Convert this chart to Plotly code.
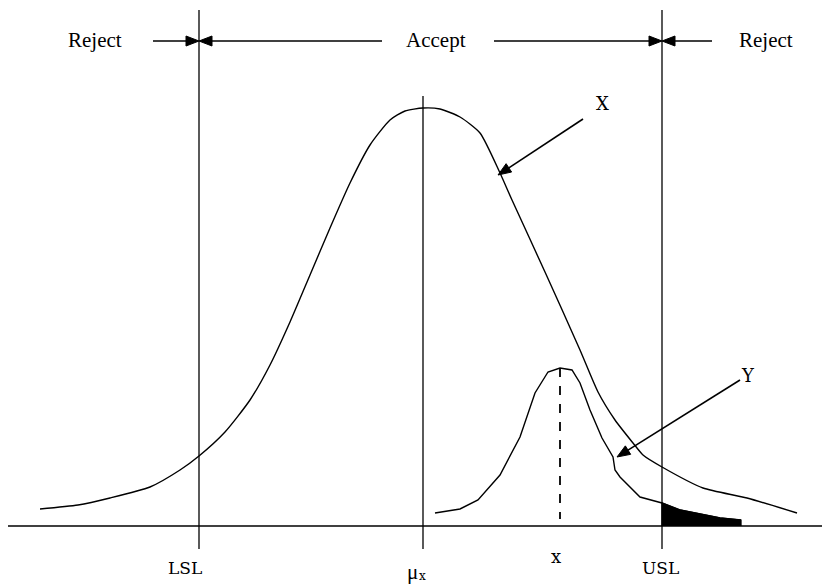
import math
import plotly.graph_objects as go

# X distribution curve (x in 100-px units relative to mean, y = density height)
x_dist_x = [-3.83, -3.45, -3.13, -2.73, -2.43, -2.24, -1.98, -1.73, -1.53, -1.33, -1.13, -0.93,
            -0.73, -0.53, -0.33, -0.18, 0.0, 0.17, 0.37, 0.57, 0.77, 0.89, 1.22, 1.57, 1.75,
            1.92, 2.10, 2.20, 2.39, 2.80, 3.24, 3.74]
x_dist_y = [0.17, 0.21, 0.28, 0.39, 0.56, 0.70, 0.94, 1.26, 1.61, 2.04, 2.51, 2.98,
            3.43, 3.81, 4.06, 4.15, 4.18, 4.17, 4.09, 3.93, 3.53, 3.26, 2.54, 1.76, 1.34,
            1.06, 0.83, 0.71, 0.59, 0.38, 0.28, 0.13]

# Y distribution curve
y_dist_x = [0.12, 0.37, 0.55, 0.77, 0.97, 1.12, 1.25, 1.37, 1.49, 1.57, 1.67, 1.79, 1.90,
            1.92, 1.97, 2.17, 2.39, 2.57, 2.77, 2.97, 3.18]
y_dist_y = [0.13, 0.17, 0.26, 0.51, 0.89, 1.33, 1.54, 1.58, 1.56, 1.43, 1.16, 0.88, 0.69,
            0.56, 0.49, 0.29, 0.23, 0.16, 0.12, 0.08, 0.06]

# key positions
LSL = -2.24
USL = 2.39
MU = 0.0
Y_MEAN = 1.37
Y_PEAK = 1.58
AXIS_X = [-4.18, 3.99]

tick_labels = ["LSL", "μ", "x", "x", "USL"]

BLACK = "black"
fig = go.Figure()

# horizontal axis line
fig.add_trace(go.Scatter(x=AXIS_X, y=[0, 0], mode="lines",
                         line=dict(color=BLACK, width=1.3), hoverinfo="skip"))

# shaded tail of Y beyond USL
sx = [v for v in y_dist_x if v >= USL]
sy = [y_dist_y[i] for i, v in enumerate(y_dist_x) if v >= USL]
fig.add_trace(go.Scatter(x=[USL] + sx + [sx[-1]], y=[0] + sy + [0], mode="lines",
                         fill="toself", fillcolor=BLACK,
                         line=dict(color=BLACK, width=1.3), hoverinfo="skip"))

# curves
fig.add_trace(go.Scatter(x=x_dist_x, y=x_dist_y, mode="lines", line_shape="spline",
                         line=dict(color=BLACK, width=1.4, smoothing=0.6), hoverinfo="skip"))
fig.add_trace(go.Scatter(x=y_dist_x, y=y_dist_y, mode="lines",
                         line=dict(color=BLACK, width=1.4), hoverinfo="skip"))

# vertical lines
for xv, top in [(LSL, 5.16), (USL, 5.16), (MU, 4.30)]:
    fig.add_trace(go.Scatter(x=[xv, xv], y=[top, -0.23], mode="lines",
                             line=dict(color=BLACK, width=1.3), hoverinfo="skip"))
fig.add_trace(go.Scatter(x=[Y_MEAN, Y_MEAN], y=[Y_PEAK, 0.07], mode="lines",
                         line=dict(color=BLACK, width=1.8, dash="dash"), hoverinfo="skip"))

# arrows: shaft line plus a filled head triangle derived from the arrow's own direction
HEAD_LEN = 0.13
HEAD_HALF = 0.05
def arrow(x0, y0, x1, y1):
    dx, dy = x1 - x0, y1 - y0
    n = math.hypot(dx, dy)
    ux, uy = dx / n, dy / n
    bx, by = x1 - HEAD_LEN * ux, y1 - HEAD_LEN * uy
    px, py = -uy * HEAD_HALF, ux * HEAD_HALF
    fig.add_trace(go.Scatter(x=[x0, bx], y=[y0, by], mode="lines",
                             line=dict(color=BLACK, width=1.6), hoverinfo="skip"))
    fig.add_trace(go.Scatter(x=[x1, bx + px, bx - px, x1], y=[y1, by + py, by - py, y1],
                             mode="lines", fill="toself", fillcolor=BLACK,
                             line=dict(color=BLACK, width=1), hoverinfo="skip"))

arrow(-2.70, 4.85, LSL, 4.85)
arrow(-0.41, 4.85, LSL, 4.85)
arrow(0.71, 4.85, USL, 4.85)
arrow(2.89, 4.85, USL, 4.85)
arrow(1.60, 4.07, 0.75, 3.51)
arrow(3.17, 1.46, 1.94, 0.69)

serif = "Liberation Serif"
slab = "DejaVu Serif"
ann = []
def text(x, y, t, fam, size):
    ann.append(dict(x=x, y=y, text=t, showarrow=False, xref="x", yref="y",
                    font=dict(family=fam, size=size, color=BLACK)))

text(-3.28, 4.86, "Reject", serif, 21)
text(0.13, 4.86, "Accept", serif, 21)
text(3.43, 4.86, "Reject", serif, 21)
text(1.79, 4.23, "X", slab, 18)
text(3.25, 1.51, "Y", slab, 18)
text(LSL - 0.14, -0.42, tick_labels[0], slab, 17)
text(MU - 0.11, -0.46, tick_labels[1], serif, 21)
text(MU - 0.01, -0.50, tick_labels[2], slab, 12)
text(Y_MEAN - 0.04, -0.30, tick_labels[3], slab, 18)
text(USL - 0.02, -0.42, tick_labels[4], slab, 17)

# page has an 8px body margin: size/range compensate so marks land on the reference pixels
fig.update_layout(
    width=825, height=578, margin=dict(l=0, r=0, t=0, b=0),
    paper_bgcolor="white", plot_bgcolor="white", showlegend=False,
    xaxis=dict(range=[-4.15, 4.10], visible=False, fixedrange=True),
    yaxis=dict(range=[-0.60, 5.18], visible=False, fixedrange=True),
    annotations=ann,
)
fig.write_html("out.html")
